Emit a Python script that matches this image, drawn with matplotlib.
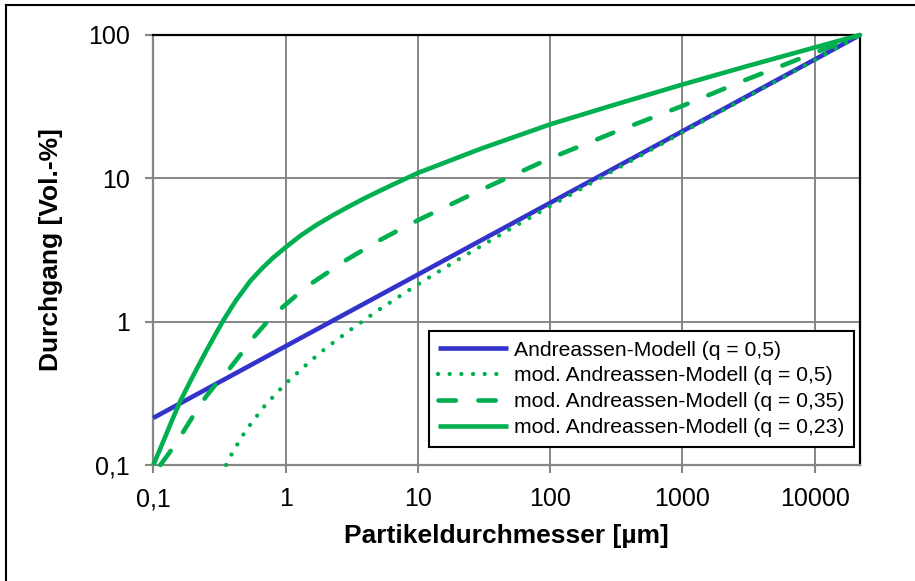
import numpy as np
import matplotlib.pyplot as plt
from matplotlib.lines import Line2D

plt.rcParams['font.family'] = ['Liberation Sans', 'DejaVu Sans']

# Andreassen-Modell (q = 0,5)
x_andr = [0.1, 1, 10, 100, 1000, 10000, 22000]
y_andr = [0.213, 0.674, 2.13, 6.74, 21.3, 67.4, 100]

# mod. Andreassen-Modell (q = 0,5)
x_mod50 = [0.355, 0.4, 0.5, 0.7, 1, 1.5, 2, 3, 5, 10, 20, 50, 100, 300, 1000, 3000, 10000, 22000]
y_mod50 = [0.1, 0.124, 0.174, 0.261, 0.37, 0.52, 0.65, 0.86, 1.2, 1.82, 2.7, 4.44, 6.4, 11.3, 20.9, 36.4, 66.7, 100]

# mod. Andreassen-Modell (q = 0,35)
x_mod35 = [0.113, 0.146, 0.2, 0.25, 0.3, 0.37, 0.45, 0.55, 0.7, 0.9, 1.2, 1.5, 2, 2.7, 3.5,
           5, 7, 10, 30, 100, 300, 1000, 3000, 10000, 22000]
y_mod35 = [0.1, 0.138, 0.22, 0.3, 0.37, 0.46, 0.58, 0.745, 0.96, 1.21, 1.52, 1.8, 2.15, 2.6, 3.0,
           3.65, 4.3, 5.1, 8.3, 13.8, 20.8, 32.0, 48.6, 75.0, 100]

# mod. Andreassen-Modell (q = 0,23)
x_mod23 = [0.1, 0.12, 0.14, 0.16, 0.2, 0.25, 0.3, 0.34, 0.42, 0.54, 0.65, 0.8, 1, 1.3, 1.7,
           2.3, 3, 4, 6, 10, 30, 100, 300, 1000, 3000, 10000, 22000]
y_mod23 = [0.1, 0.149, 0.21, 0.28, 0.42, 0.62, 0.84, 1.03, 1.4, 1.92, 2.31, 2.78, 3.3, 3.99, 4.71,
           5.55, 6.35, 7.3, 8.75, 10.9, 16.1, 23.8, 32.4, 45.1, 60.2, 81.8, 100]

x_ticks = [0.1, 1, 10, 100, 1000, 10000]
x_ticklabels = ['0,1', '1', '10', '100', '1000', '10000']
y_ticks = [0.1, 1, 10, 100]
y_ticklabels = ['0,1', '1', '10', '100']

blue = '#3333cc'
green = '#00b050'
grey = '#868686'

fig = plt.figure(figsize=(9.15, 5.81), dpi=100)
ax = fig.add_axes([0.1676, 0.1997, 0.9399 - 0.1676, 0.9398 - 0.1997])

ax.plot(x_andr, y_andr, color=blue, lw=3.3, solid_capstyle='butt',
        label='Andreassen-Modell (q = 0,5)', clip_on=False, zorder=3)
ax.plot(x_mod50, y_mod50, color=green, lw=3.1, linestyle=(0, (0.01, 2.7)),
        dash_capstyle='round', label='mod. Andreassen-Modell (q = 0,5)',
        clip_on=False, zorder=4)
ax.plot(x_mod35, y_mod35, color=green, lw=3.3, linestyle=(0, (3.8, 4.9)),
        dash_capstyle='round', label='mod. Andreassen-Modell (q = 0,35)',
        clip_on=False, zorder=4)
ax.plot(x_mod23, y_mod23, color=green, lw=3.3, solid_capstyle='butt',
        solid_joinstyle='round', label='mod. Andreassen-Modell (q = 0,23)',
        clip_on=False, zorder=4)

ax.set_xscale('log')
ax.set_yscale('log')
ax.set_xlim(0.1, 22000)
ax.set_ylim(0.1, 100)

ax.set_xticks(x_ticks)
ax.set_xticklabels(x_ticklabels)
ax.set_yticks(y_ticks)
ax.set_yticklabels(y_ticklabels)
ax.minorticks_off()
ax.tick_params(axis='both', which='major', labelsize=18, color=grey,
               length=6, width=1.5, direction='out')
ax.tick_params(axis='x', pad=10)
ax.tick_params(axis='y', pad=11)

ax.grid(True, color=grey, lw=1.4)
ax.set_axisbelow(True)

for side in ['top', 'right']:
    ax.spines[side].set_color('black')
    ax.spines[side].set_linewidth(1.6)
for side in ['left', 'bottom']:
    ax.spines[side].set_color(grey)
    ax.spines[side].set_linewidth(1.6)

ax.set_xlabel('Partikeldurchmesser [µm]', fontsize=19, fontweight='bold', labelpad=9)
ax.set_ylabel('Durchgang [Vol.-%]', fontsize=19, fontweight='bold', labelpad=18)

leg = ax.legend(loc='lower right', bbox_to_anchor=(0.9915, 0.042),
                borderaxespad=0, fontsize=15.2, frameon=True, fancybox=False,
                edgecolor='black', framealpha=1, handlelength=3.3,
                handletextpad=0.3, labelspacing=0.33, borderpad=0.45)
leg.get_frame().set_linewidth(1.5)

# outer frame of the chart area (only top and left are visible)
fig.add_artist(Line2D([6 / 915, 6 / 915], [0, 1 - 5 / 581], color='black', lw=1.5))
fig.add_artist(Line2D([6 / 915, 1], [1 - 5 / 581, 1 - 5 / 581], color='black', lw=1.5))

fig.savefig('out.png', dpi=100)
